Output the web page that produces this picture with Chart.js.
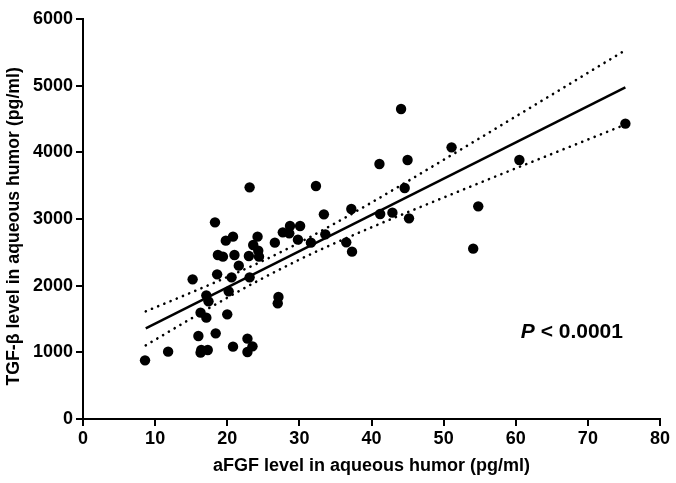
<!DOCTYPE html>
<html>
<head>
<meta charset="utf-8">
<script src="https://cdn.jsdelivr.net/npm/chart.js@4/dist/chart.umd.min.js"></script>
<style>
  html, body { margin: 0; padding: 0; background: #fff; }
  #wrap { width: 676px; height: 483px; }
</style>
</head>
<body>
<div id="wrap"><canvas id="c" width="676" height="483"></canvas></div>
<script>
// aFGF (pg/ml) values of each eye
const aFGF = [8.6, 11.8, 15.2, 18.3, 23.1, 19.8, 20.8, 24.2, 23.6, 24.3, 18.7, 19.4, 21.0, 23.0, 24.4,
  21.6, 18.6, 20.6, 23.1, 17.1, 17.4, 20.2, 16.3, 17.1, 20.0, 16.0, 18.4, 22.8, 23.5, 20.8, 16.4, 17.3,
  16.3, 22.8, 32.3, 33.4, 37.2, 26.6, 27.7, 28.7, 28.6, 30.1, 29.8, 31.6, 33.6, 36.5, 37.3, 27.1, 27.0,
  44.1, 41.1, 45.0, 51.1, 75.2, 60.5, 44.6, 41.2, 42.9, 45.2, 54.8, 54.1];
// TGF-beta (pg/ml) values of each eye
const tgfb = [880, 1010, 2095, 2950, 3475, 2675, 2735, 2735, 2610, 2525, 2460, 2435, 2460, 2445, 2435,
  2300, 2170, 2125, 2125, 1855, 1765, 1915, 1595, 1520, 1570, 1245, 1285, 1205, 1090, 1085, 1035, 1035,
  995, 1005, 3495, 3070, 3150, 2645, 2800, 2895, 2785, 2895, 2690, 2645, 2770, 2650, 2510, 1830, 1735,
  4650, 3825, 3885, 4075, 4430, 3885, 3465, 3075, 3095, 3010, 3190, 2555];

// regression line
const fitX = [8.7, 75.2];
const fitY = [1360, 4975];

// 95% confidence band
const bandX = [8.7, 15, 20, 25, 30, 35, 40, 45, 50, 55, 60, 65, 70, 75.2];
const bandUpper = [1615, 1897, 2129, 2376, 2645, 2939, 3247, 3565, 3888, 4212, 4538, 4864, 5192, 5533];
const bandLower = [1105, 1507, 1819, 2116, 2391, 2641, 2875, 3101, 3322, 3542, 3760, 3976, 4192, 4417];

const xTicks = [0, 10, 20, 30, 40, 50, 60, 70, 80];
const yTicks = [0, 1000, 2000, 3000, 4000, 5000, 6000];

const xTitle = 'aFGF level in aqueous humor (pg/ml)';
const yTitle = 'TGF-β level in aqueous humor (pg/ml)';
const pLabel = 'P';
const pRest = ' < 0.0001';

const FONT = '"Liberation Sans", Arial, Helvetica, sans-serif';

const pts = aFGF.map((x, i) => ({x: x, y: tgfb[i]}));
const fitPts = fitX.map((x, i) => ({x: x, y: fitY[i]}));
const upPts = bandX.map((x, i) => ({x: x, y: bandUpper[i]}));
const loPts = bandX.map((x, i) => ({x: x, y: bandLower[i]}));

const textPlugin = {
  id: 'textPlugin',
  afterDatasetsDraw(chart) {
    const ctx = chart.ctx;
    const xs = chart.scales.x, ys = chart.scales.y;
    // P value annotation
    const x0 = xs.getPixelForValue(60.7);
    const y0 = ys.getPixelForValue(1210);
    ctx.save();
    ctx.fillStyle = '#000';
    ctx.textBaseline = 'alphabetic';
    ctx.textAlign = 'left';
    ctx.font = 'italic bold 21px ' + FONT;
    ctx.fillText(pLabel, x0, y0);
    const w = ctx.measureText(pLabel).width;
    ctx.font = 'bold 21px ' + FONT;
    ctx.fillText(pRest, x0 + w, y0);
    ctx.restore();
    // y axis title
    ctx.save();
    ctx.translate(14, ys.getPixelForValue(2890));
    ctx.rotate(-Math.PI / 2);
    ctx.textAlign = 'center';
    ctx.textBaseline = 'middle';
    ctx.fillStyle = '#000';
    ctx.font = 'bold 17.7px ' + FONT;
    ctx.fillText(yTitle, 0, 0);
    ctx.restore();
  }
};

new Chart(document.getElementById('c'), {
  type: 'scatter',
  data: {
    datasets: [
      { data: pts, backgroundColor: '#000', borderColor: '#000', pointRadius: 5.2, pointHoverRadius: 5.2, borderWidth: 0 },
      { type: 'line', data: fitPts, showLine: true, borderColor: '#000', borderWidth: 2.5, pointRadius: 0, fill: false, tension: 0 },
      { type: 'line', data: upPts, showLine: true, borderColor: '#000', borderWidth: 2.6, borderDash: [0.1, 6.6], borderCapStyle: 'round', pointRadius: 0, fill: false, cubicInterpolationMode: 'monotone' },
      { type: 'line', data: loPts, showLine: true, borderColor: '#000', borderWidth: 2.6, borderDash: [0.1, 6.6], borderCapStyle: 'round', pointRadius: 0, fill: false, cubicInterpolationMode: 'monotone' }
    ]
  },
  options: {
    responsive: false,
    animation: false,
    devicePixelRatio: 1,
    layout: { padding: { top: 19, right: 16, bottom: 0, left: 0 } },
    plugins: { legend: { display: false }, tooltip: { enabled: false } },
    scales: {
      x: {
        type: 'linear', min: 0, max: 80,
        afterBuildTicks: s => { s.ticks = xTicks.map(v => ({value: v})); },
        afterFit: s => { s.height = 64; },
        ticks: { color: '#000', font: { family: FONT, size: 18, weight: 'bold' }, padding: 2, callback: v => String(v), maxRotation: 0, autoSkip: false },
        grid: { drawOnChartArea: false, drawTicks: true, tickLength: 7, color: '#000', lineWidth: 2 },
        border: { display: true, color: '#000', width: 2 },
        title: { display: true, text: xTitle, color: '#000', font: { family: FONT, size: 18, weight: 'bold' }, padding: { top: 4, bottom: 6 } }
      },
      y: {
        type: 'linear', min: 0, max: 6000,
        afterBuildTicks: s => { s.ticks = yTicks.map(v => ({value: v})); },
        afterFit: s => { s.width = 83; },
        ticks: { color: '#000', font: { family: FONT, size: 18, weight: 'bold' }, padding: 3, callback: v => String(v), autoSkip: false },
        grid: { drawOnChartArea: false, drawTicks: true, tickLength: 7, color: '#000', lineWidth: 2 },
        border: { display: true, color: '#000', width: 2 },
        title: { display: false, text: yTitle }
      }
    }
  },
  plugins: [textPlugin]
});
</script>
</body>
</html>
